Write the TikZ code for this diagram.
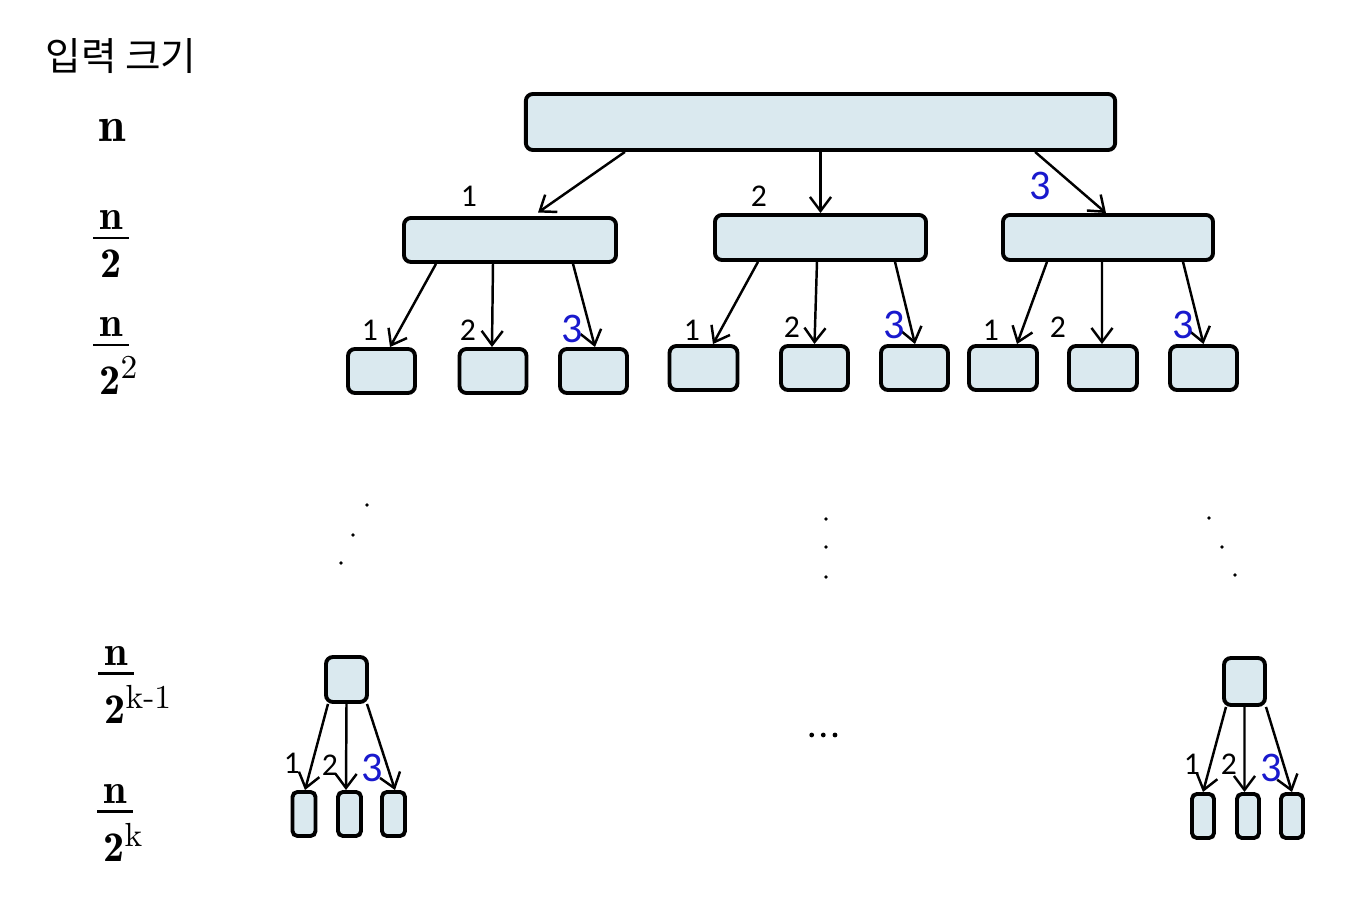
\documentclass[tikz,border=0pt]{standalone}
\usepackage{amsmath,amssymb}
\usepackage{mathtools}
\usepackage{fontspec}
\usepackage{xcolor}
\usepackage{tikz}
\usetikzlibrary{arrows.meta,positioning,calc}

\newfontfamily\kofont{Noto Sans CJK KR}
\newfontfamily\numfont{Carlito}
\definecolor{boxfill}{RGB}{218,233,239}
\definecolor{numblue}{RGB}{25,25,205}
% n over a denominator, with a short bar
\newcommand{\sizefrac}[1]{\shortstack{$\mathbf{n}$\\[-1pt]\rule{0.35cm}{0.6pt}\\$#1$}}
\newcommand{\supx}[1]{^{\mathrlap{\text{\fontsize{9.5}{10}\selectfont #1}}}}

\begin{document}
\begin{tikzpicture}[x=0.01cm, y=-0.01cm,
    box/.style={draw, line width=1.1pt, fill=boxfill, rounded corners=2pt, inner sep=0pt},
    leaf/.style={box, rounded corners=1.4pt, minimum width=0.23cm, minimum height=0.44cm},
    arr/.style={line width=0.7pt, -{Straight Barb[length=4pt,width=6pt]}},
    lab/.style={font=\numfont\fontsize{9}{9}\selectfont, inner sep=0pt},
    labb/.style={font=\numfont\fontsize{12}{12}\selectfont, text=numblue, inner sep=0pt},
    size/.style={font=\fontsize{12}{14}\selectfont, inner sep=0pt}]
        \useasboundingbox (0,0) rectangle (1356,904);

        % Input sizes
        \node[font=\kofont\fontsize{11}{11}\selectfont, inner sep=0pt] (title) at (121,56) {입력 크기};
        \node[font=\fontsize{14}{16}\selectfont, inner sep=0pt] (s0) at (112,130) {$\mathbf{n}$};
        \node[size] (s1) at (111,244) {\sizefrac{\mathbf{2}}};
        \node[size] (s2) at (111,356) {\sizefrac{\mathbf{2}\supx{2}}};
        \node[size] (s3) at (116,685) {\sizefrac{\mathbf{2}\supx{k-1}}};
        \node[size] (s4) at (115,823) {\sizefrac{\mathbf{2}\supx{k}}};

        % Root
        \node[box, minimum width=5.89cm, minimum height=0.56cm] (root) at (820.5,122) {};

        % Level 1
        \node[box, minimum width=2.12cm, minimum height=0.44cm] (a) at (510,240) {};
        \node[box, minimum width=2.11cm, minimum height=0.45cm] (b) at (820.5,237.5) {};
        \node[box, minimum width=2.10cm, minimum height=0.45cm] (c) at (1108,237.5) {};

        % Level 2
        \node[box, minimum width=0.67cm, minimum height=0.44cm] (a1) at (381.5,371) {};
        \node[box, minimum width=0.67cm, minimum height=0.44cm] (a2) at (493,371) {};
        \node[box, minimum width=0.67cm, minimum height=0.44cm] (a3) at (593.5,371) {};
        \node[box, minimum width=0.68cm, minimum height=0.44cm] (b1) at (703.5,368) {};
        \node[box, minimum width=0.67cm, minimum height=0.44cm] (b2) at (814.5,368) {};
        \node[box, minimum width=0.67cm, minimum height=0.44cm] (b3) at (914.5,368) {};
        \node[box, minimum width=0.68cm, minimum height=0.44cm] (c1) at (1003,368) {};
        \node[box, minimum width=0.68cm, minimum height=0.44cm] (c2) at (1103,368) {};
        \node[box, minimum width=0.67cm, minimum height=0.44cm] (c3) at (1203.5,368) {};

        % Level k-1
        \node[box, minimum width=0.41cm, minimum height=0.45cm] (l) at (346.5,679.5) {};
        \node[box, minimum width=0.41cm, minimum height=0.47cm] (r) at (1244.5,681.5) {};

        % Level k
        \node[leaf] (l1) at (304,814) {};
        \node[leaf] (l2) at (349.5,814) {};
        \node[leaf] (l3) at (393.5,814) {};
        \node[leaf, minimum width=0.22cm] (r1) at (1203,816) {};
        \node[leaf, minimum width=0.22cm] (r2) at (1248,816) {};
        \node[leaf, minimum width=0.22cm] (r3) at (1292,816) {};

        % Arrows
        \draw[arr] ([xshift=-1.955cm]root.south) -- ([xshift=0.28cm,yshift=1pt]a.north);
        \draw[arr] (root.south) -- (b.north);
        \draw[arr] ([xshift=2.145cm]root.south) -- ([xshift=-0.02cm]c.north);

        \draw[arr] ([xshift=-0.74cm]a.south) -- ([xshift=0.085cm]a1.north);
        \draw[arr] ([xshift=-0.17cm]a.south) -- ([xshift=-0.01cm]a2.north);
        \draw[arr] ([xshift=0.63cm]a.south) -- ([xshift=0.015cm]a3.north);
        \draw[arr] ([xshift=-0.625cm]b.south) -- ([xshift=0.095cm]b1.north);
        \draw[arr] ([xshift=-0.035cm]b.south) -- (b2.north);
        \draw[arr] ([xshift=0.745cm]b.south) -- ([xshift=0.005cm]b3.north);
        \draw[arr] ([xshift=-0.61cm]c.south) -- ([xshift=0.14cm]c1.north);
        \draw[arr] ([xshift=-0.06cm]c.south) -- ([xshift=-0.01cm]c2.north);
        \draw[arr] ([xshift=0.75cm]c.south) -- (c3.north);

        \draw[arr] ([xshift=-0.185cm]l.south) -- ([xshift=0.01cm]l1.north);
        \draw[arr] (l.south) -- ([xshift=-0.035cm]l2.north);
        \draw[arr] ([xshift=0.205cm]l.south) -- ([xshift=0.015cm]l3.north);
        \draw[arr] ([xshift=-0.185cm]r.south) -- (r1.north);
        \draw[arr] (r.south) -- ([xshift=-0.035cm]r2.north);
        \draw[arr] ([xshift=0.215cm]r.south) -- (r3.north);

        % Arrow numbers
        \node[lab] (n1) at (469,196) {1};
        \node[lab] (n2) at (759,196) {2};
        \node[labb] (n3) at (1040,186) {3};
        \node[lab] (na1) at (370,330) {1};
        \node[lab] (na2) at (468,330) {2};
        \node[labb] (na3) at (572,329) {3};
        \node[lab] (nb1) at (692,330) {1};
        \node[lab] (nb2) at (792,327) {2};
        \node[labb] (nb3) at (894,325) {3};
        \node[lab] (nc1) at (991,330) {1};
        \node[lab] (nc2) at (1058,327) {2};
        \node[labb] (nc3) at (1183,325) {3};
        \node[lab] (nl1) at (292,763) {1};
        \node[lab] (nl2) at (330,765) {2};
        \node[labb] (nl3) at (372,768) {3};
        \node[lab] (nr1) at (1192,764) {1};
        \node[lab] (nr2) at (1229,764) {2};
        \node[labb] (nr3) at (1271,768) {3};

        % Dots
        \foreach \x/\y in {367/505, 353/535, 341/563, 826/519, 826/547, 826/577,
                           1209/518, 1222/547, 1235/575}
            \fill (\x,\y) circle (1.8);
        \foreach \x in {811.7, 823.3, 835}
            \fill (\x,735) circle (2.4);
\end{tikzpicture}
\end{document}
